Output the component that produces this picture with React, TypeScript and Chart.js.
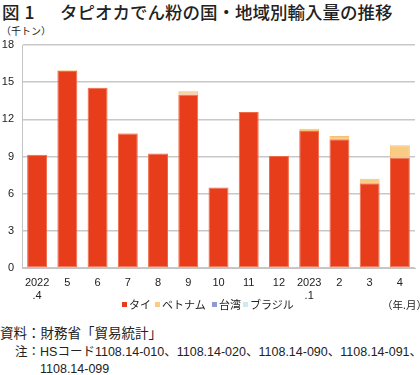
import React, { useEffect, useRef } from "react";
import { Chart, registerables } from "chart.js";

Chart.register(...registerables);

const categories: (string | string[])[] = [
  ["2022", ".4"], "5", "6", "7", "8", "9", "10", "11", "12", ["2023", ".1"], "2", "3", "4",
];
const thai = [9.15, 15.9, 14.55, 10.85, 9.25, 14.0, 6.5, 12.6, 9.05, 11.05, 10.4, 6.85, 8.9];
const vietnam = [0, 0.07, 0.02, 0.06, 0, 0.27, 0, 0, 0, 0.2, 0.25, 0.35, 1.0];
const taiwan = [0, 0, 0, 0, 0, 0, 0, 0, 0, 0, 0, 0, 0];
const brazil = [0, 0, 0, 0, 0, 0, 0, 0, 0, 0, 0, 0, 0];
const seriesNames = ["タイ", "ベトナム", "台湾", "ブラジル"];
const seriesColors = ["#E73D1B", "#FBCB84", "#8F9AD2", "#CFE9F3"];
const seriesBorders = ["#F06A48", "#F7C070", "#6F7BC0", "#A8D6E8"];
const yTicks = [0, 3, 6, 9, 12, 15, 18];

const latinFont = '"Liberation Sans", Arial, "Noto Sans CJK JP", sans-serif';
const jpFont = '"Noto Sans CJK JP", "Liberation Sans", sans-serif';

export default function App() {
  const ref = useRef<HTMLCanvasElement | null>(null);

  useEffect(() => {
    document.body.style.margin = "0";
    const ctx = ref.current;
    if (!ctx) return;
    const values = [thai, vietnam, taiwan, brazil];
    const chart = new Chart(ctx, {
      type: "bar",
      data: {
        labels: categories,
        datasets: values.map((v, i) => ({
          label: seriesNames[i],
          data: v,
          backgroundColor: seriesColors[i],
          borderColor: seriesBorders[i],
          borderWidth: 1,
          borderSkipped: false,
          barPercentage: 0.66,
          categoryPercentage: 1,
        })),
      },
      options: {
        animation: false,
        responsive: false,
        maintainAspectRatio: false,
        layout: { padding: { top: 45, left: 0, right: 5, bottom: 0 } },
        plugins: {
          legend: { display: false },
          tooltip: { enabled: false },
        },
        scales: {
          x: {
            stacked: true,
            grid: { display: false, drawTicks: false },
            border: { display: true, color: "#C4C4C4", width: 1 },
            ticks: {
              padding: 8,
              color: "#222",
              font: { family: latinFont, size: 11 },
              maxRotation: 0,
              autoSkip: false,
            },
            afterFit: (s: any) => {
              s.height = 32;
            },
          },
          y: {
            stacked: true,
            min: 0,
            max: 18,
            afterBuildTicks: (s: any) => {
              s.ticks = yTicks.map((v) => ({ value: v }));
            },
            grid: { color: "#C8C8C8", lineWidth: 1.5, drawTicks: false },
            border: { display: true, color: "#C4C4C4", width: 1 },
            ticks: {
              padding: 8,
              color: "#222",
              font: { family: latinFont, size: 11 },
            },
            afterFit: (s: any) => {
              s.width = 22;
            },
          },
        },
      },
    });
    return () => chart.destroy();
  }, []);

  const legendPos = [122, 155, 212, 243];

  return (
    <div style={{ position: "relative", width: 420, height: 375, overflow: "hidden", color: "#222" }}>
      <div style={{ position: "absolute", left: 2, top: 2, fontFamily: jpFont, fontSize: 17.5, fontWeight: 500, lineHeight: "20px", whiteSpace: "nowrap", letterSpacing: 5 }}>
        図1
      </div>
      <div style={{ position: "absolute", left: 60, top: 2, fontFamily: jpFont, fontSize: 17.5, fontWeight: 500, lineHeight: "20px", whiteSpace: "nowrap" }}>
        タピオカでん粉の国・地域別輸入量の推移
      </div>
      <div style={{ position: "absolute", left: 1, top: 25, fontFamily: jpFont, fontSize: 10, lineHeight: "12px", whiteSpace: "nowrap" }}>
        （千トン）
      </div>
      <canvas ref={ref} width={420} height={300} style={{ position: "absolute", left: 0, top: 0, width: 420, height: 300 }} />
      {seriesNames.map((n, i) => (
        <div key={n} style={{ position: "absolute", left: legendPos[i], top: 297, height: 14, display: "flex", alignItems: "center", fontFamily: jpFont, fontSize: 11, whiteSpace: "nowrap" }}>
          <span style={{ display: "inline-block", width: 5, height: 5, background: seriesColors[i], marginRight: 2 }} />
          {n}
        </div>
      ))}
      <div style={{ position: "absolute", left: 382, top: 298, fontFamily: jpFont, fontSize: 10.5, lineHeight: "14px", whiteSpace: "nowrap" }}>
        （年.月）
      </div>
      <div style={{ position: "absolute", left: 0, top: 323, fontFamily: jpFont, fontSize: 13.5, lineHeight: "18px", whiteSpace: "nowrap" }}>
        資料：財務省「貿易統計」
      </div>
      <div style={{ position: "absolute", left: 15, top: 342, fontFamily: latinFont, fontSize: 12.5, lineHeight: "18px", whiteSpace: "nowrap" }}>
        <span style={{ fontFamily: jpFont }}>注：</span>HS<span style={{ fontFamily: jpFont }}>コード</span>1108.14-010<span style={{ fontFamily: jpFont }}>、</span>1108.14-020<span style={{ fontFamily: jpFont }}>、</span>1108.14-090<span style={{ fontFamily: jpFont }}>、</span>1108.14-091<span style={{ fontFamily: jpFont }}>、</span>
      </div>
      <div style={{ position: "absolute", left: 40, top: 360, fontFamily: latinFont, fontSize: 12.5, lineHeight: "18px", whiteSpace: "nowrap" }}>
        1108.14-099
      </div>
    </div>
  );
}
